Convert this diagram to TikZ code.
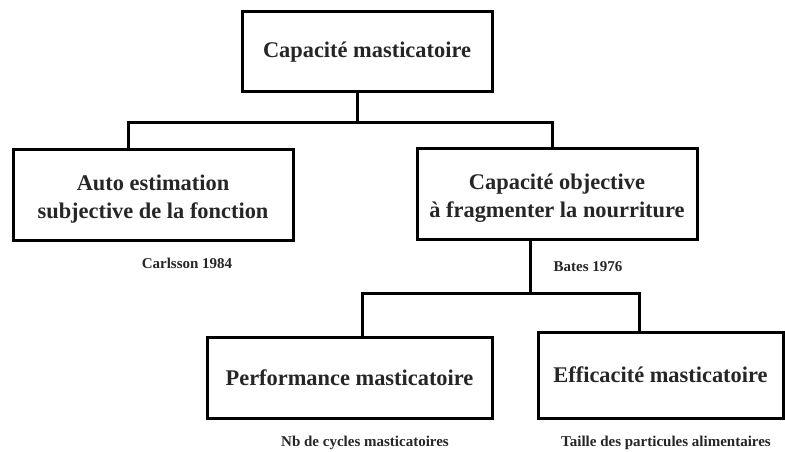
\documentclass[tikz,border=0pt]{standalone}
\usepackage{fontspec}
\setmainfont{Liberation Serif}
\newcommand{\lowtxt}[1]{\raisebox{-4pt}[\height][\depth]{\begin{tabular}{@{}c@{}}#1\end{tabular}}}
\begin{document}
\begin{tikzpicture}[x=1pt,y=-1pt,
  box/.style={draw=black,line width=3pt,fill=white,inner sep=0pt,align=center,
    font=\bfseries\fontsize{22.4}{28}\selectfont,text=black!85},
  note/.style={inner sep=0pt,font=\bfseries\fontsize{15}{18}\selectfont,text=black!85},
  conn/.style={draw=black,line width=3pt,line cap=rect,line join=miter}]
\useasboundingbox (0,0) rectangle (785,452);
\fill[white] (0,0) rectangle (785,452);
\node[box,minimum width=250pt,minimum height=80pt] (top) at (367,52) {Capacité masticatoire};
\node[box,minimum width=280pt,minimum height=91pt] (left) at (153,194.5) {\lowtxt{Auto estimation\\subjective de la fonction}};
\node[box,minimum width=280pt,minimum height=91pt] (right) at (557,193.5) {\lowtxt{Capacité objective\\à fragmenter la nourriture}};
\node[box,minimum width=285pt,minimum height=81pt] (perf) at (349.5,377.5) {Performance masticatoire};
\node[box,minimum width=245pt,minimum height=86pt] (eff) at (660.5,375) {Efficacité masticatoire};
\node[note] (carl) at (187,263) {Carlsson 1984};
\node[note] (bates) at (588,267) {Bates 1976};
\node[note] (nb) at (365,443) {Nb de cycles masticatoires};
\node[note] (taille) at (666,443) {Taille des particules alimentaires};
\coordinate (j) at (357,122);
\coordinate (jl) at (128,122);
\coordinate (jr) at (552,122);
\coordinate (k) at (530,293);
\coordinate (kl) at (362,293);
\coordinate (kr) at (639,293);
\draw[conn] (top.south -| j) -- (j);
\draw[conn] (left.north -| jl) -- (jl) -- (jr) -- (right.north -| jr);
\draw[conn] (right.south -| k) -- (k);
\draw[conn] (perf.north -| kl) -- (kl) -- (kr) -- (eff.north -| kr);
\end{tikzpicture}
\end{document}
